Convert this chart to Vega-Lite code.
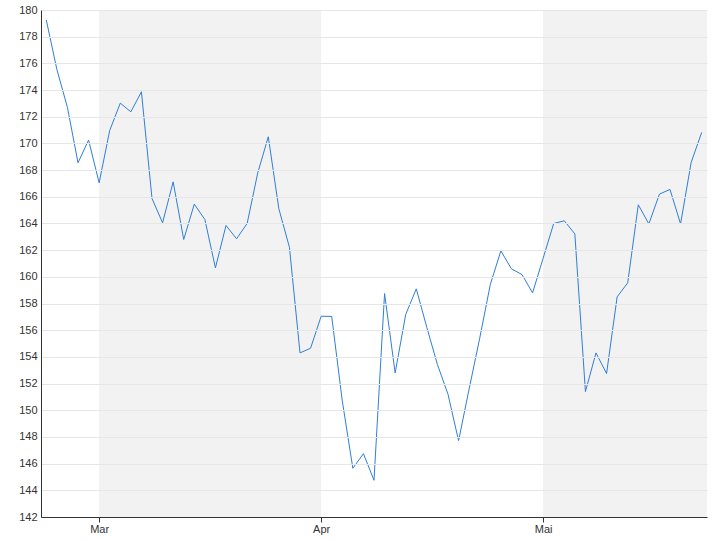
{
  "$schema": "https://vega.github.io/schema/vega-lite/v6.json",
  "width": 666,
  "height": 507,
  "autosize": {"type": "none"},
  "padding": {"left": 41, "top": 10, "right": 13, "bottom": 23},
  "background": "white",
  "config": {
    "view": {"stroke": null},
    "font": "Liberation Sans",
    "axis": {"labelFont": "Liberation Sans", "labelFontSize": 11, "labelColor": "#333333", "title": null}
  },
  "datasets": {
    "prices": [
      {"date": "2019-02-22", "close": 179.25},
      {"date": "2019-02-25", "close": 175.55},
      {"date": "2019-02-26", "close": 172.7},
      {"date": "2019-02-27", "close": 168.55},
      {"date": "2019-02-28", "close": 170.25},
      {"date": "2019-03-01", "close": 167.05},
      {"date": "2019-03-04", "close": 170.97},
      {"date": "2019-03-05", "close": 173.02},
      {"date": "2019-03-06", "close": 172.37},
      {"date": "2019-03-07", "close": 173.87},
      {"date": "2019-03-08", "close": 165.87},
      {"date": "2019-03-11", "close": 164.05},
      {"date": "2019-03-12", "close": 167.12},
      {"date": "2019-03-13", "close": 162.8},
      {"date": "2019-03-14", "close": 165.45},
      {"date": "2019-03-15", "close": 164.3},
      {"date": "2019-03-18", "close": 160.67},
      {"date": "2019-03-19", "close": 163.85},
      {"date": "2019-03-20", "close": 162.85},
      {"date": "2019-03-21", "close": 164.0},
      {"date": "2019-03-22", "close": 167.78},
      {"date": "2019-03-25", "close": 170.5},
      {"date": "2019-03-26", "close": 165.1},
      {"date": "2019-03-27", "close": 162.22},
      {"date": "2019-03-28", "close": 154.3},
      {"date": "2019-03-29", "close": 154.65},
      {"date": "2019-04-01", "close": 157.05},
      {"date": "2019-04-02", "close": 157.03},
      {"date": "2019-04-03", "close": 150.7},
      {"date": "2019-04-04", "close": 145.65},
      {"date": "2019-04-05", "close": 146.75},
      {"date": "2019-04-08", "close": 144.75},
      {"date": "2019-04-09", "close": 158.75},
      {"date": "2019-04-10", "close": 152.8},
      {"date": "2019-04-11", "close": 157.18},
      {"date": "2019-04-12", "close": 159.1},
      {"date": "2019-04-15", "close": 156.2},
      {"date": "2019-04-16", "close": 153.43},
      {"date": "2019-04-17", "close": 151.2},
      {"date": "2019-04-18", "close": 147.72},
      {"date": "2019-04-22", "close": 151.6},
      {"date": "2019-04-23", "close": 155.4},
      {"date": "2019-04-24", "close": 159.42},
      {"date": "2019-04-25", "close": 161.95},
      {"date": "2019-04-26", "close": 160.6},
      {"date": "2019-04-29", "close": 160.17},
      {"date": "2019-04-30", "close": 158.8},
      {"date": "2019-05-01", "close": 161.4},
      {"date": "2019-05-02", "close": 164.0},
      {"date": "2019-05-03", "close": 164.2},
      {"date": "2019-05-06", "close": 163.22},
      {"date": "2019-05-07", "close": 151.4},
      {"date": "2019-05-08", "close": 154.3},
      {"date": "2019-05-09", "close": 152.75},
      {"date": "2019-05-10", "close": 158.5},
      {"date": "2019-05-13", "close": 159.55},
      {"date": "2019-05-14", "close": 165.4},
      {"date": "2019-05-15", "close": 163.97},
      {"date": "2019-05-16", "close": 166.2},
      {"date": "2019-05-17", "close": 166.55},
      {"date": "2019-05-20", "close": 163.97},
      {"date": "2019-05-21", "close": 168.57},
      {"date": "2019-05-22", "close": 170.83}
    ]
  },
  "layer": [
    {
      "data": {"values": [{"start": "2019-03-01", "end": "2019-04-01"}]},
      "mark": {"type": "rect", "color": "#f2f2f2"},
      "encoding": {
        "x": {"field": "start", "type": "ordinal"},
        "x2": {"field": "end"}
      }
    },
    {
      "data": {"values": [{"start": "2019-05-01"}]},
      "mark": {"type": "rect", "color": "#f2f2f2"},
      "encoding": {
        "x": {"field": "start", "type": "ordinal"},
        "x2": {"value": "width"}
      }
    },
    {
      "data": {"name": "prices"},
      "mark": {"type": "line", "color": "#2f7ed8", "strokeWidth": 1},
      "encoding": {
        "x": {
          "field": "date",
          "type": "ordinal",
          "scale": {"type": "point", "padding": 0.5},
          "axis": {
            "values": ["2019-03-01", "2019-04-01", "2019-05-01"],
            "labelExpr": "datum.value == '2019-03-01' ? 'Mar' : datum.value == '2019-04-01' ? 'Apr' : 'Mai'",
            "labelAngle": 0,
            "labelAlign": "center",
            "labelBaseline": "top",
            "grid": false,
            "domainColor": "#333333",
            "tickColor": "#333333",
            "tickSize": 5,
            "labelPadding": 1
          }
        },
        "y": {
          "field": "close",
          "type": "quantitative",
          "scale": {"domain": [142, 180], "nice": false, "zero": false},
          "axis": {
            "values": [142, 144, 146, 148, 150, 152, 154, 156, 158, 160, 162, 164, 166, 168, 170, 172, 174, 176, 178, 180],
            "ticks": false,
            "labelPadding": 4,
            "domainColor": "#333333",
            "gridColor": "#e6e6e6",
            "zindex": 1
          }
        }
      }
    }
  ]
}
